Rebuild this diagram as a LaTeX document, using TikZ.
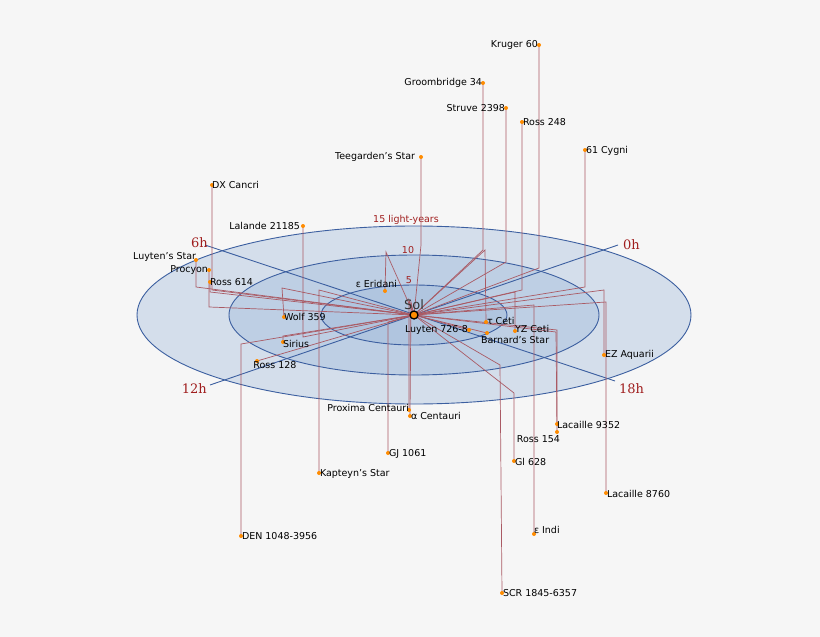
\documentclass[tikz,border=0pt]{standalone}
\usepackage{fontspec}
\setmainfont{DejaVu Sans}
\newfontfamily\dejamono{DejaVu Serif}
\definecolor{ringb}{RGB}{60,95,160}
\definecolor{ringf}{RGB}{150,180,215}
\definecolor{connc}{RGB}{170,90,100}
\definecolor{hred}{RGB}{160,30,30}
\begin{document}
\begin{tikzpicture}[x=1pt,y=-1pt,
  lbl/.style={font=\fontsize{9.5}{10}\selectfont,inner sep=1pt},
  rl/.style={font=\fontsize{9.5}{10}\selectfont,inner sep=1pt,text=hred},
  hl/.style={font=\dejamono\fontsize{13}{13}\selectfont,inner sep=1pt,text=hred},
  star/.style={circle,fill=orange!90!yellow,inner sep=0pt,minimum size=4pt},
  conn/.style={draw=connc,line width=0.7pt},
  ring/.style={draw=ringb,line width=0.9pt,fill=ringf,fill opacity=0.35},
  axis/.style={draw=ringb,line width=0.9pt}]
\fill[gray!7] (0,0) rectangle (820,637);
\useasboundingbox (0,0) rectangle (820,637);
\coordinate (sol) at (414,315);
\draw[ring] (sol) ellipse [x radius=277,y radius=89];
\draw[ring] (sol) ellipse [x radius=185,y radius=60];
\draw[ring] (sol) ellipse [x radius=93,y radius=30];
\coordinate (h0) at (618,245); \coordinate (h12) at (210,385);
\coordinate (h6) at (205,245); \coordinate (h18) at (615,381);
\draw[axis] (h12) -- (h0); \draw[axis] (h6) -- (h18);
\node[hl,anchor=west] at (622,245) {0h};
\node[hl,anchor=east] at (209,243) {6h};
\node[hl,anchor=east] at (208,389) {12h};
\node[hl,anchor=west] at (618,389) {18h};
\node[rl] at (406,220) {15 light-years};
\node[rl] at (408,250) {10};
\node[rl] at (409,280) {5};
\foreach \n/\dx/\dy/\fx/\fy in {
 kr/539/45/539/268, gr/483/83/483/250, st/506/108/506/262, rb/522/122/522/290,
 cy/585/150/585/287, te/421/157/421/245, dx/212/185/212/290, la/303/226/303/337,
 ly/196/260/196/287, pr/209/270/209/307, rs/210/282/210/292, ee/385/291/386/252,
 wo/284/317/282/288, si/283/342/283/336, ro/257/361/257/361, tc/486/322/485/250,
 yz/515/331/515/292, ba/487/333/487/333, lu/469/330/469/330, ez/604/355/604/290,
 px/409/410/409/300, ac/410/416/411/302, gj/388/453/388/322, ka/319/473/319/290,
 de/241/536/241/344, l9/557/424/557/330, rf/557/432/556/332, gi/514/461/514/393,
 l8/606/493/606/302, ei/534/534/534/305, sc/502/593/500/365}{
  \coordinate (f\n) at (\fx,\fy);
  \coordinate (s\n) at (\dx,\dy);
  \draw[conn] (sol) -- (f\n) -- (s\n);
}
\foreach \n/\dx/\dy/\t/\a/\ox/\oy in {
 kr/539/45/Kruger 60/east/-2/0,
 gr/483/83/Groombridge 34/east/-2/0,
 st/506/108/Struve 2398/east/-2/0,
 rb/522/122/Ross 248/west/2/0,
 cy/585/150/61 Cygni/west/2/1,
 te/421/157/Teegarden's Star/east/-7/0,
 dx/212/185/DX Cancri/west/1/0,
 la/303/226/Lalande 21185/east/-4/0,
 ly/196/260/Luyten's Star/east/-1/-3,
 pr/209/270/Procyon/east/-2/0,
 rs/210/282/Ross 614/west/1/0,
 ee/385/291/ε Eridani/east/11/-7,
 wo/284/317/Wolf 359/west/1/0,
 si/283/342/Sirius/west/1/2,
 ro/257/361/Ross 128/north/18/1,
 tc/486/322/τ Ceti/west/2/-1,
 yz/515/331/YZ Ceti/west/1/-2,
 ba/487/333/Barnard's Star/west/-5/7,
 lu/469/330/Luyten 726-8/east/-2/0,
 ez/604/355/EZ Aquarii/west/2/0,
 px/409/410/Proxima Centauri/east/-1/-2,
 ac/410/416/α Centauri/west/2/0,
 gj/388/453/GJ 1061/west/2/1,
 ka/319/473/Kapteyn's Star/west/2/1,
 de/241/536/DEN 1048-3956/west/2/0,
 l9/557/424/Lacaille 9352/west/1/1,
 rf/557/432/Ross 154/east/2/7,
 gi/514/461/Gl 628/west/2/1,
 l8/606/493/Lacaille 8760/west/2/1,
 ei/534/534/ε Indi/west/1/-4,
 sc/502/593/SCR 1845-6357/west/2/0}{
  \node[star] (d\n) at (\dx,\dy) {};
  \node[lbl,anchor=\a] (t\n) at ([xshift=\ox,yshift=-\oy]d\n.\a) {\t};
}
\node[circle,fill=orange!90!yellow,draw=black,line width=1.3pt,minimum size=8pt,inner sep=0pt] (solc) at (sol) {};
\node[font=\fontsize{13}{13}\selectfont,text=black!80,anchor=south] (soll) at (414,313) {Sol};
\end{tikzpicture}
\end{document}
